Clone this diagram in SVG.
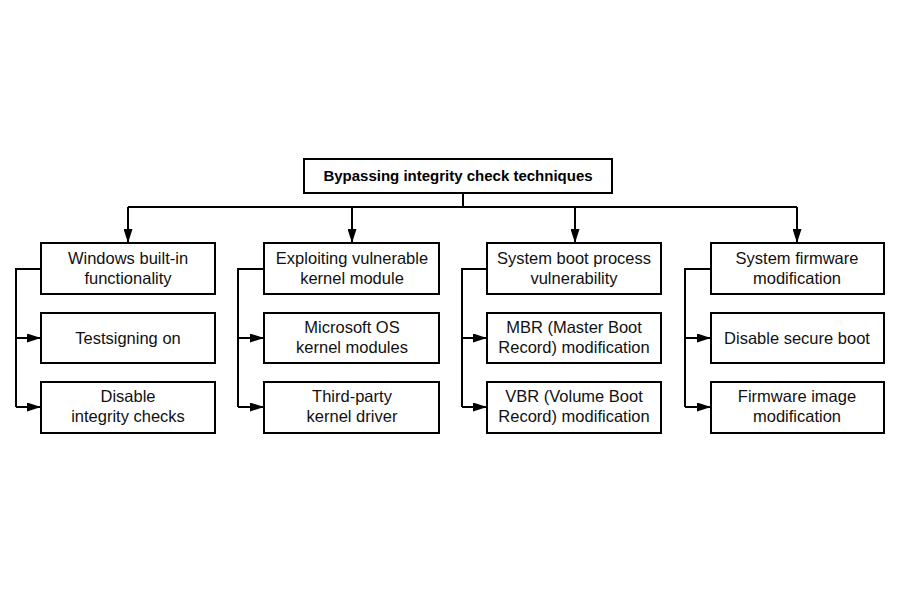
<svg xmlns="http://www.w3.org/2000/svg" width="900" height="600" viewBox="0 0 900 600">
<defs>
<marker id="ah" viewBox="0 0 14 9" refX="14" refY="4.5" markerWidth="14" markerHeight="9" markerUnits="userSpaceOnUse" orient="auto">
<path d="M0,0 L14,4.5 L0,9 Z" fill="#000"/>
</marker>
<style>
.box{fill:#fff;stroke:#000;stroke-width:2}
.t{font-family:"Liberation Sans",Arial,sans-serif;font-size:16.5px;fill:#111;text-anchor:middle}
.title{font-family:"Liberation Sans",Arial,sans-serif;font-size:15px;font-weight:bold;fill:#000;text-anchor:middle}
.c{fill:none;stroke:#000;stroke-width:2}
</style>
</defs>
<rect width="900" height="600" fill="#fff"/>
<g id="connectors">
<path class="c" d="M463,193 V207"/>
<path class="c" d="M128,207 H797"/>
<path class="c" d="M128,207 V243" marker-end="url(#ah)"/>
<path class="c" d="M352,207 V243" marker-end="url(#ah)"/>
<path class="c" d="M575,207 V243" marker-end="url(#ah)"/>
<path class="c" d="M797,207 V243" marker-end="url(#ah)"/>
<path class="c" d="M41,269 H16 V407"/>
<path class="c" d="M16,338 H41" marker-end="url(#ah)"/>
<path class="c" d="M16,407 H41" marker-end="url(#ah)"/>
<path class="c" d="M264,269 H238 V407"/>
<path class="c" d="M238,338 H264" marker-end="url(#ah)"/>
<path class="c" d="M238,407 H264" marker-end="url(#ah)"/>
<path class="c" d="M487,269 H462 V407"/>
<path class="c" d="M462,338 H487" marker-end="url(#ah)"/>
<path class="c" d="M462,407 H487" marker-end="url(#ah)"/>
<path class="c" d="M711,269 H685 V407"/>
<path class="c" d="M685,338 H711" marker-end="url(#ah)"/>
<path class="c" d="M685,407 H711" marker-end="url(#ah)"/>
</g>
<g id="root"><rect class="box" x="304" y="159" width="308" height="34"/><text class="title" x="458" y="181">Bypassing integrity check techniques</text></g>
<g id="c1"><rect class="box" x="41" y="243" width="174" height="51"/><text class="t" x="128" y="264">Windows built-in</text><text class="t" x="128" y="284">functionality</text></g>
<g id="c1a"><rect class="box" x="41" y="313" width="174" height="50"/><text class="t" x="128" y="344">Testsigning on</text></g>
<g id="c1b"><rect class="box" x="41" y="382" width="174" height="51"/><text class="t" x="128" y="402">Disable</text><text class="t" x="128" y="422">integrity checks</text></g>
<g id="c2"><rect class="box" x="264" y="243" width="175" height="51"/><text class="t" x="352" y="264">Exploiting vulnerable</text><text class="t" x="352" y="284">kernel module</text></g>
<g id="c2a"><rect class="box" x="264" y="313" width="175" height="50"/><text class="t" x="352" y="333">Microsoft OS</text><text class="t" x="352" y="353">kernel modules</text></g>
<g id="c2b"><rect class="box" x="264" y="382" width="175" height="51"/><text class="t" x="352" y="402">Third-party</text><text class="t" x="352" y="422">kernel driver</text></g>
<g id="c3"><rect class="box" x="487" y="243" width="174" height="51"/><text class="t" x="574" y="264">System boot process</text><text class="t" x="574" y="284">vulnerability</text></g>
<g id="c3a"><rect class="box" x="487" y="313" width="174" height="50"/><text class="t" x="574" y="333">MBR (Master Boot</text><text class="t" x="574" y="353">Record) modification</text></g>
<g id="c3b"><rect class="box" x="487" y="382" width="174" height="51"/><text class="t" x="574" y="402">VBR (Volume Boot</text><text class="t" x="574" y="422">Record) modification</text></g>
<g id="c4"><rect class="box" x="711" y="243" width="173" height="51"/><text class="t" x="797" y="264">System firmware</text><text class="t" x="797" y="284">modification</text></g>
<g id="c4a"><rect class="box" x="711" y="313" width="173" height="50"/><text class="t" x="797" y="344">Disable secure boot</text></g>
<g id="c4b"><rect class="box" x="711" y="382" width="173" height="51"/><text class="t" x="797" y="402">Firmware image</text><text class="t" x="797" y="422">modification</text></g>
</svg>
